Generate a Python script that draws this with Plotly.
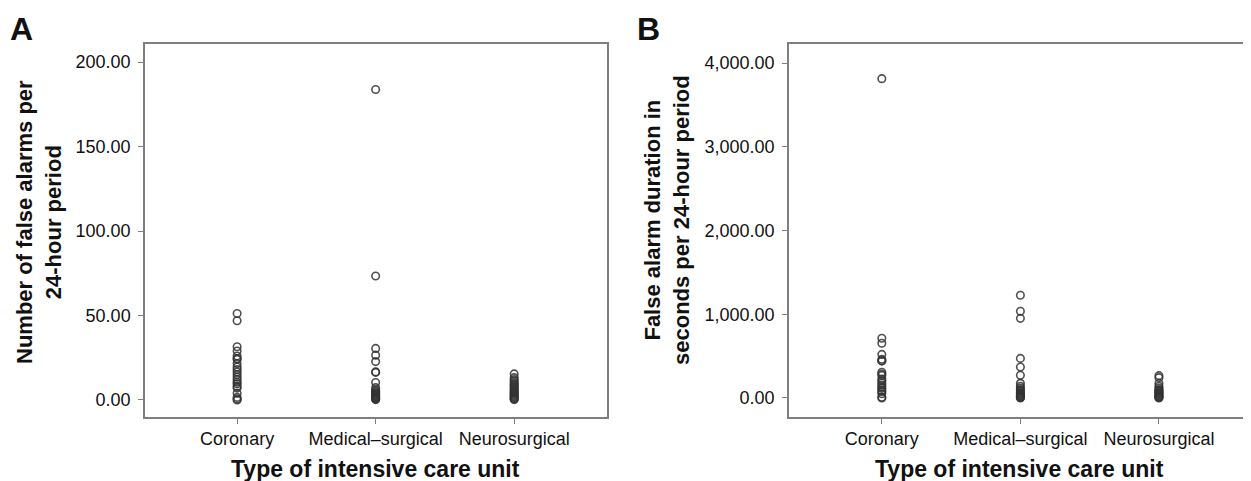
import plotly.graph_objects as go

# page body has an 8px margin, so the figure is sized/placed to fit the window
OFF = 8
W, H = 1251 - OFF, 481 - OFF

categories = ["Coronary", "Medical–surgical", "Neurosurgical"]

# Panel A: number of false alarms per 24-hour period
alarms_coronary = [51.2, 46.9, 31.5, 29.0, 26.0, 24.5, 24.0, 21.5, 19.5, 18.0, 16.5,
                   15.0, 13.5, 12.0, 10.5, 9.5, 8.0, 7.0, 4.0, 1.5, 0.5, 0.0]
alarms_medical = [183.8, 73.4, 30.5, 26.5, 22.7, 16.6, 16.3, 10.3, 7.3, 6.0, 5.2, 4.5,
                  4.0, 3.4, 3.0, 2.5, 2.0, 1.6, 1.2, 0.8, 0.5, 0.2]
alarms_neuro = [15.4, 13.2, 12.0, 11.0, 10.0, 9.2, 8.5, 7.8, 7.0, 6.3, 5.6, 5.0, 4.4,
                3.8, 3.2, 2.6, 2.0, 1.5, 1.0, 0.6, 0.2]

# Panel B: false alarm duration in seconds per 24-hour period
dur_coronary = [3813, 713, 653, 521, 462, 446, 440, 307, 287, 270, 227, 207, 180, 155,
                130, 115, 90, 76, 50, 8, 0]
dur_medical = [1226, 1035, 951, 473, 370, 271, 175, 140, 120, 100, 85, 70, 60, 50, 40,
               30, 20, 12, 5, 0]
dur_neuro = [267, 243, 175, 140, 120, 100, 90, 80, 70, 60, 50, 40, 30, 20, 10, 5, 0]

ticks_a = [0, 50, 100, 150, 200]
ticks_b = [0, 1000, 2000, 3000, 4000]


def fx(px):
    return (px - OFF) / W


def fy(py):
    return 1 - (py - OFF) / H


FONT = "Arial, Liberation Sans, Helvetica, sans-serif"
marker = dict(symbol="circle-open", size=7.5, color="rgba(50,50,50,0.85)",
              line=dict(width=1.6, color="rgba(50,50,50,0.85)"))

fig = go.Figure()


def add_group(vals_list, xa, ya):
    for cat, vals in zip(categories, vals_list):
        fig.add_trace(go.Scatter(x=[cat] * len(vals), y=vals, mode="markers",
                                 marker=marker, xaxis=xa, yaxis=ya,
                                 showlegend=False, hoverinfo="y"))


add_group([alarms_coronary, alarms_medical, alarms_neuro], "x", "y")
add_group([dur_coronary, dur_medical, dur_neuro], "x2", "y2")

ydom = [fy(417), fy(44)]
axis_common = dict(showline=True, mirror=True, linecolor="#7f7f7f", linewidth=1.5,
                   showgrid=False, zeroline=False, ticks="outside", ticklen=5,
                   tickwidth=1, tickcolor="#7f7f7f",
                   tickfont=dict(family=FONT, size=18, color="#111"))

fig.update_layout(
    width=W, height=H,
    margin=dict(l=0, r=0, t=0, b=0),
    paper_bgcolor="white", plot_bgcolor="white",
    font=dict(family=FONT, color="#111"),
    xaxis=dict(domain=[fx(145), fx(607)], type="category",
               categoryorder="array", categoryarray=categories,
               range=[-0.665, 2.67], automargin=False, **axis_common),
    yaxis=dict(domain=ydom, range=[-10.1, 210.7], tickvals=ticks_a,
               tickformat=".2f", automargin=False, ticklabelstandoff=4,
               **axis_common),
    xaxis2=dict(domain=[fx(789), fx(1249)], type="category",
                categoryorder="array", categoryarray=categories,
                range=[-0.67, 2.65], automargin=False, anchor="y2", **axis_common),
    yaxis2=dict(domain=ydom, range=[-227, 4227], tickvals=ticks_b,
                tickformat=",.2f", automargin=False, anchor="x2",
                ticklabelstandoff=4, **axis_common),
)

title_font = dict(family=FONT, size=22, color="#111")
ann = [
    dict(text="<b>A</b>", x=fx(8), y=fy(9), xanchor="left", yanchor="top",
         font=dict(family=FONT, size=32, color="#111")),
    dict(text="<b>B</b>", x=fx(635), y=fy(9), xanchor="left", yanchor="top",
         font=dict(family=FONT, size=32, color="#111")),
    dict(text="<b>Number of false alarms per<br>24-hour period</b>", x=fx(39),
         y=fy(222), xanchor="center", yanchor="middle", textangle=-90,
         font=title_font),
    dict(text="<b>False alarm duration in<br>seconds per 24-hour period</b>", x=fx(667),
         y=fy(220), xanchor="center", yanchor="middle", textangle=-90,
         font=title_font),
    dict(text="<b>Type of intensive care unit</b>", x=fx(375), y=fy(469),
         xanchor="center", yanchor="middle", font=dict(family=FONT, size=23, color="#111")),
    dict(text="<b>Type of intensive care unit</b>", x=fx(1019), y=fy(469),
         xanchor="center", yanchor="middle", font=dict(family=FONT, size=23, color="#111")),
]
for a in ann:
    a.update(xref="paper", yref="paper", showarrow=False)
fig.update_layout(annotations=ann)

fig.write_html("out.html")
